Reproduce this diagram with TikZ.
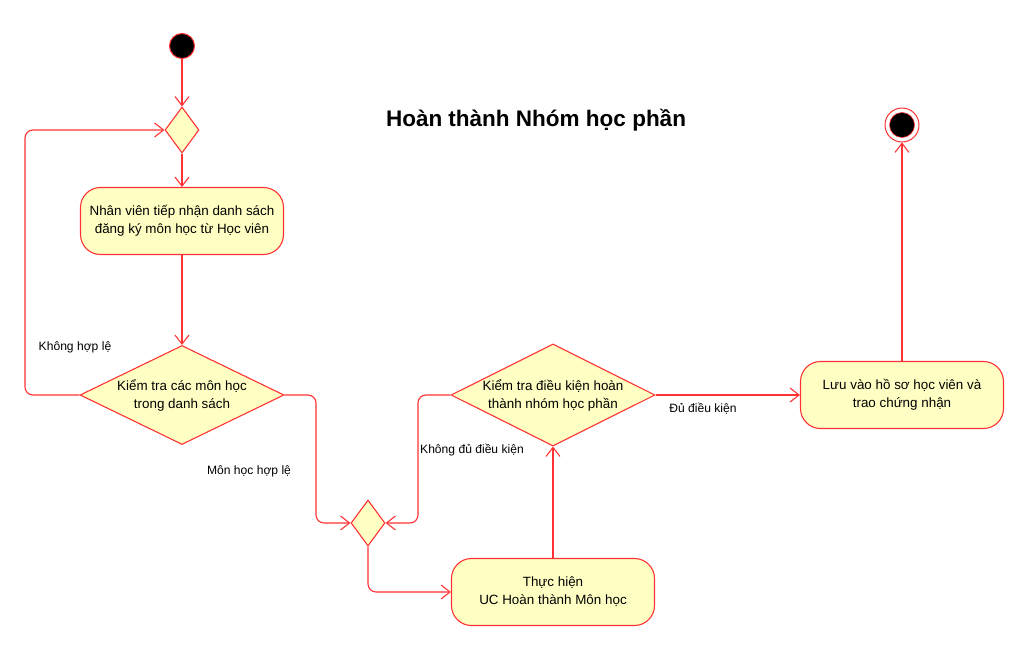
\documentclass[tikz,border=0pt]{standalone}
\usepackage{fontspec}
\setmainfont{Liberation Sans}
\usetikzlibrary{shapes.geometric,arrows.meta}
\definecolor{lred}{HTML}{FF3333}
\definecolor{lfill}{HTML}{FFFFC4}
\tikzset{
  actbox/.style={draw=lred, fill=lfill, line width=1.1pt, rounded corners=20pt, minimum width=203pt, minimum height=67pt, align=center, font=\fontsize{13.4}{18}\selectfont, inner sep=0pt},
  decbox/.style={draw=lred, fill=lfill, line width=1.1pt, diamond, aspect=2, inner sep=0pt, align=center, font=\fontsize{13.4}{18}\selectfont},
  smalldec/.style={draw=lred, fill=lfill, line width=1.1pt, diamond, minimum width=34pt, minimum height=46pt, inner sep=0pt},
  conn/.style={draw=lred, line width=1.1pt, rounded corners=8pt, -{Straight Barb[length=9pt,width=14pt,line width=1.1pt]}},
  lbl/.style={font=\fontsize{12.1}{14}\selectfont, inner sep=0pt},
}
\begin{document}
\begin{tikzpicture}[x=1pt,y=-1pt]
\useasboundingbox (0,0) rectangle (1036,655);
\node[circle, fill=black, draw=lred, line width=1pt, minimum size=25pt, inner sep=0pt] (start) at (182,46) {};
\node[smalldec] (d1) at (182,130) {};
\node[actbox] (a1) at (182,221) {Nhân viên tiếp nhận danh sách\\đăng ký môn học từ Học viên};
\node[decbox, minimum width=204pt, minimum height=99pt] (d2) at (182,395) {Kiểm tra các môn học\\trong danh sách};
\node[smalldec] (m) at (368,523) {};
\node[actbox] (a2) at (553,592) {Thực hiện\\UC Hoàn thành Môn học};
\node[decbox, minimum width=203pt, minimum height=100pt] (d3) at (553,395) {Kiểm tra điều kiện hoàn\\thành nhóm học phần};
\node[actbox] (a3) at (902,395) {Lưu vào hồ sơ học viên và\\trao chứng nhận};
\node[circle, draw=lred, fill=white, line width=1pt, minimum size=34pt, inner sep=0pt] (endo) at (902,125) {};
\node[circle, fill=black, draw=lred, line width=0.6pt, minimum size=25pt, inner sep=0pt] (endi) at (902,125) {};
\node[font=\fontsize{22.5}{26}\selectfont\bfseries] (title) at (536,120) {Hoàn thành Nhóm học phần};

\draw[conn] (start) -- (d1);
\draw[conn] (d1) -- (a1);
\draw[conn] (a1) -- (d2);
\draw[conn] (d2.west) -- (25,395) -- (25,130) -- (d1.west);
\draw[conn] (d2.east) -- (316,395) -- (316,523) -- (m.west);
\draw[conn] (d3.west) -- (418,395) -- (418,523) -- (m.east);
\draw[conn] (m.south) -- (368,592) -- (a2.west);
\draw[conn] (a2) -- (d3.south);
\draw[conn] (d3.east) -- (a3.west);
\draw[conn] (a3) -- (endo);

\node[lbl] (l1) at (75,347) {Không hợp lệ};
\node[lbl] (l2) at (249,471) {Môn học hợp lệ};
\node[lbl] (l3) at (472,450) {Không đủ điều kiện};
\node[lbl] (l4) at (703,409) {Đủ điều kiện};
\end{tikzpicture}
\end{document}
